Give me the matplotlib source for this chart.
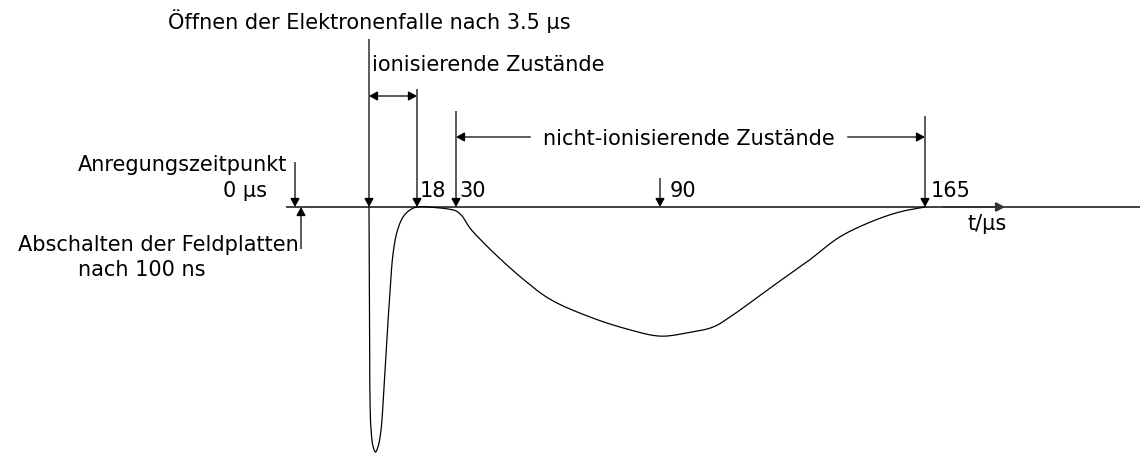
import numpy as np
import matplotlib
matplotlib.use("Agg")
import matplotlib.pyplot as plt
from matplotlib.patches import FancyArrowPatch

plt.rcParams["font.family"] = ["DejaVu Sans"]

# ---- data -------------------------------------------------------------
# event times on the time axis (µs)
t_excite = 0.0        # Anregungszeitpunkt
t_field_off = 0.1     # Abschalten der Feldplatten (100 ns)
t_trap_open = 3.5     # Öffnen der Elektronenfalle
t_ion_end = 18.0      # Ende ionisierende Zustände
t_nonion_start = 30.0
t_nonion_mid = 90.0
t_nonion_end = 165.0
number_marks = [18, 30, 90, 165]

# detector signal (arbitrary units, normalised to the ionising peak)
signal_t = [3.5, 3.65, 3.8, 4.1, 4.7, 5.46, 6.2, 7.1, 8.0, 8.9, 9.8, 10.75,
            11.96, 13.77, 15.9, 18.0, 23.5, 27.5, 30.0, 31.8, 34.1, 37.9,
            42.1, 49.7, 57.6, 69.4, 80.3, 90.0, 97.6, 105.0, 109.8, 122.0,
            131.6, 140.9, 150.3, 157.9, 165.0]
signal_s = [0.0, -0.376, -0.784, -0.906, -0.976, -1.0, -0.98, -0.914, -0.743,
            -0.539, -0.355, -0.192, -0.102, -0.041, -0.012, 0.0, -0.002,
            -0.008, -0.016, -0.037, -0.086, -0.143, -0.2, -0.294, -0.376,
            -0.449, -0.498, -0.527, -0.514, -0.49, -0.449, -0.322, -0.224,
            -0.122, -0.057, -0.02, 0.0]

# schematic (piecewise linear) layout of the time axis
axis_t = [-10.0, 0.0, 0.1, 3.5, 18.0, 30.0, 90.0, 165.0, 400.0]
axis_u = [-305.0, 295.0, 301.0, 369.0, 417.0, 456.0, 660.0, 925.0, 1755.3]

W, H = 1140, 456


def fwd(t):
    return np.interp(t, axis_t, axis_u)


def inv(u):
    return np.interp(u, axis_u, axis_t)


def px(x, y):
    return x / W, 1 - y / H


def catmull_rom(P, n=24, alpha=0.5):
    P = np.asarray(P, float)
    P = np.vstack([2 * P[0] - P[1], P, 2 * P[-1] - P[-2]])
    out = []
    for i in range(1, len(P) - 2):
        p0, p1, p2, p3 = P[i - 1], P[i], P[i + 1], P[i + 2]
        t0 = 0.0
        t1 = t0 + np.linalg.norm(p1 - p0) ** alpha
        t2 = t1 + np.linalg.norm(p2 - p1) ** alpha
        t3 = t2 + np.linalg.norm(p3 - p2) ** alpha
        tt = np.linspace(t1, t2, n, endpoint=False)[:, None]
        A1 = (t1 - tt) / (t1 - t0) * p0 + (tt - t0) / (t1 - t0) * p1
        A2 = (t2 - tt) / (t2 - t1) * p1 + (tt - t1) / (t2 - t1) * p2
        A3 = (t3 - tt) / (t3 - t2) * p2 + (tt - t2) / (t3 - t2) * p3
        B1 = (t2 - tt) / (t2 - t0) * A1 + (tt - t0) / (t2 - t0) * A2
        B2 = (t3 - tt) / (t3 - t1) * A2 + (tt - t1) / (t3 - t1) * A3
        out.append((t2 - tt) / (t2 - t1) * B1 + (tt - t1) / (t2 - t1) * B2)
    out.append(P[-2][None])
    return np.vstack(out)


fig = plt.figure(figsize=(W / 100, H / 100), dpi=100)
ax = fig.add_axes([0, 0, 1, 1])
ax.set_xscale("function", functions=(fwd, inv))
ax.set_xlim(inv(0), inv(W))
ax.set_ylim((208 - H) / 245, 208 / 245)
ax.axis("off")

LW = 0.9
FS = 15


def arrow(p0, p1, style="-|>", lw=LW, color="black"):
    a = FancyArrowPatch(p0, p1, arrowstyle=style + ",head_length=0.4,head_width=0.22",
                        mutation_scale=13, shrinkA=0, shrinkB=0, lw=lw,
                        color=color, joinstyle="miter", capstyle="butt")
    ax.add_patch(a)


# time axis
ax.plot([inv(287), inv(W)], [0, 0], color="#333333", lw=1.3, zorder=1)
arrow((170.0, 0), (187.6, 0), color="#333333", lw=1.3)

# signal
pts = ax.transData.transform(np.column_stack([signal_t, signal_s]))
smooth = ax.transData.inverted().transform(catmull_rom(pts))
ax.plot(smooth[:, 0], smooth[:, 1], color="black", lw=LW, zorder=3)

# event markers (vertical arrows onto the axis)
y_of = lambda py: (208 - py) / 245
arrow((t_excite, y_of(163)), (t_excite, 0))
arrow((t_field_off, y_of(250)), (t_field_off, 0))
arrow((t_trap_open, y_of(40)), (t_trap_open, 0))
arrow((t_ion_end, y_of(90)), (t_ion_end, 0))
arrow((t_nonion_start, y_of(112)), (t_nonion_start, 0))
arrow((t_nonion_mid, y_of(179)), (t_nonion_mid, 0))
arrow((t_nonion_end, y_of(117)), (t_nonion_end, 0))

# interval arrows
arrow((t_trap_open, y_of(97)), (t_ion_end, y_of(97)), style="<|-|>")
arrow((52.0, y_of(138)), (t_nonion_start, y_of(138)))
arrow((143.0, y_of(138)), (t_nonion_end, y_of(138)))

# number labels next to the marker arrows
offsets = {18: 3, 30: 3, 90: 10, 165: 6}
for t in number_marks:
    ax.annotate(str(t), xy=(t, 0), xytext=(offsets[t], 11),
                textcoords="offset pixels", ha="left", va="baseline",
                fontsize=FS)

tx = dict(transform=ax.transAxes, fontsize=FS, va="baseline")
ax.text(*px(168, 29), "Öffnen der Elektronenfalle nach 3.5 µs", ha="left", **tx)
ax.text(*px(372, 71), "ionisierende Zustände", ha="left", **tx)
ax.text(*px(689, 145), "nicht-ionisierende Zustände", ha="center", **tx)
ax.text(*px(287, 171), "Anregungszeitpunkt", ha="right", **tx)
ax.text(*px(267, 197), "0 µs", ha="right", **tx)
ax.text(*px(299, 251), "Abschalten der Feldplatten", ha="right", **tx)
ax.text(*px(142, 276), "nach 100 ns", ha="center", **tx)
ax.text(*px(967, 230), "t/µs", ha="left", **tx)

fig.savefig("out.png", dpi=100, facecolor="white")
